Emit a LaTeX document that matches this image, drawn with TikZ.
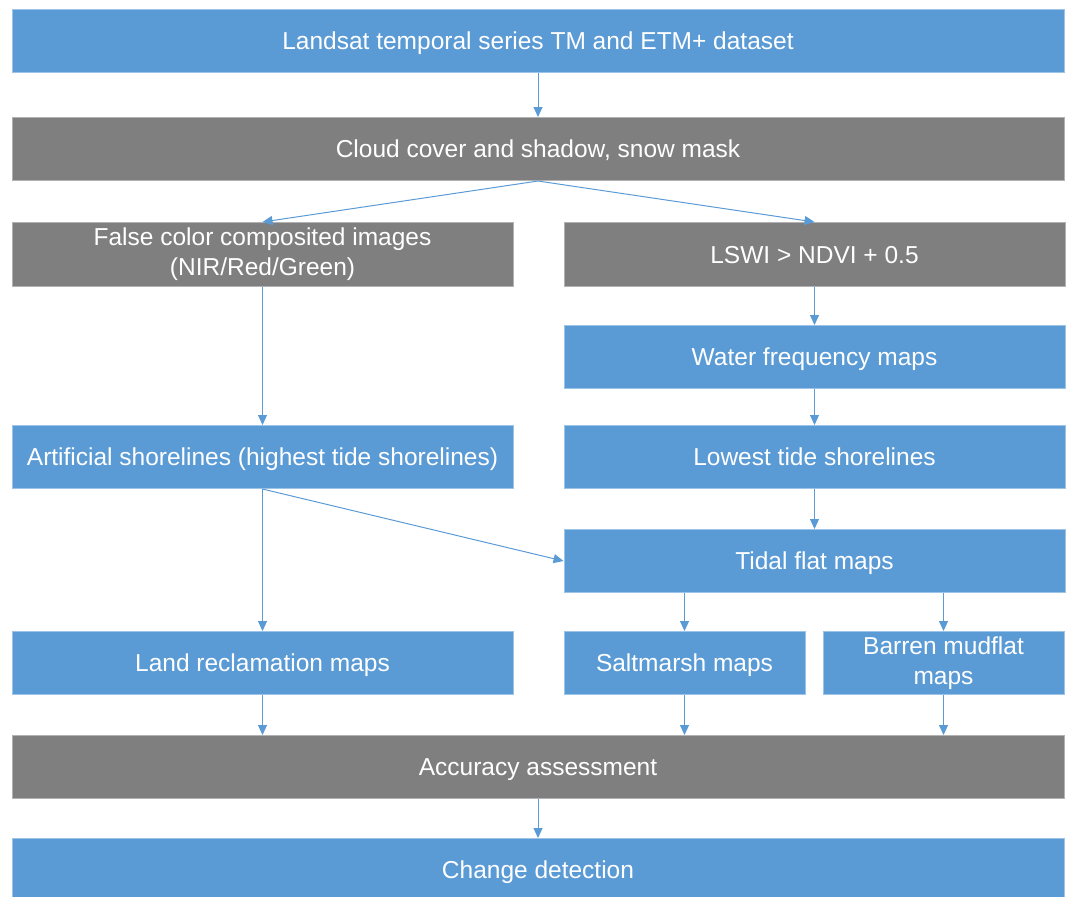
\documentclass[tikz,border=0pt]{standalone}
\usepackage{fontspec}
\setmainfont{Liberation Sans}
\usetikzlibrary{positioning,arrows.meta}

\definecolor{boxblue}{HTML}{5B9BD5}
\definecolor{boxgray}{HTML}{7F7F7F}

\tikzset{
  box/.style={rectangle, text=white, minimum height=31.5pt, inner sep=2pt,
    align=center, line width=0.5pt, text height=8.8pt, text depth=0pt,
    font=\fontsize{12.25}{15}\selectfont},
  twolines/.style={text height={}, text depth={}},
  bluebox/.style={box, fill=boxblue, draw=boxblue!60!white},
  graybox/.style={box, fill=boxgray, draw=boxgray!60!white},
  wide/.style={minimum width=526pt},
  half/.style={minimum width=250.5pt},
  small/.style={minimum width=120.5pt},
  flow/.style={draw=boxblue, line width=0.5pt, -{Triangle[length=5pt,width=4.5pt]}}
}

\begin{document}
\begin{tikzpicture}

  \useasboundingbox (0,0) rectangle (535pt,-448pt);

  % Define nodes
  \node[bluebox, wide] (landsat) at (269pt,-20.5pt) {Landsat temporal series TM and ETM+ dataset};
  \node[graybox, wide, below=22pt of landsat] (cloud) {Cloud cover and shadow, snow mask};
  \node[graybox, half, twolines, minimum height=32pt, below right=20.5pt and 0pt of cloud.south west] (falsecolor) {False color composited images\\(NIR/Red/Green)};
  \node[graybox, half, minimum height=32pt, right=25pt of falsecolor] (lswi) {LSWI > NDVI + 0.5};
  \node[bluebox, half, below=19pt of lswi] (water) {Water frequency maps};
  \node[bluebox, half, below=18pt of water] (lowest) {Lowest tide shorelines};
  \node[bluebox, half, left=25pt of lowest] (artificial) {Artificial shorelines (highest tide shorelines)};
  \node[bluebox, half, below=20pt of lowest] (tidal) {Tidal flat maps};
  \node[bluebox, half, below=71pt of artificial] (reclamation) {Land reclamation maps};
  \node[bluebox, small, below right=19pt and 0pt of tidal.south west] (saltmarsh) {Saltmarsh maps};
  \node[bluebox, small, twolines, right=8.5pt of saltmarsh] (barren) {Barren mudflat\\maps};
  \node[graybox, wide, below right=20pt and 0pt of reclamation.south west] (accuracy) {Accuracy assessment};
  \node[bluebox, wide, below=19.5pt of accuracy] (change) {Change detection};

  % Connect the nodes
  \draw[flow] (landsat) -- (cloud);
  \draw[flow] (cloud.south) -- (falsecolor.north);
  \draw[flow] (cloud.south) -- (lswi.north);
  \draw[flow] (falsecolor) -- (artificial);
  \draw[flow] (lswi) -- (water);
  \draw[flow] (water) -- (lowest);
  \draw[flow] (lowest) -- (tidal);
  \draw[flow] (artificial) -- (reclamation);
  \draw[flow] (artificial.south) -- (tidal.west);
  \draw[flow] (tidal.south -| saltmarsh.north) -- (saltmarsh);
  \draw[flow] (tidal.south -| barren.north) -- (barren);
  \draw[flow] (reclamation) -- (reclamation.south |- accuracy.north);
  \draw[flow] (saltmarsh) -- (saltmarsh.south |- accuracy.north);
  \draw[flow] (barren) -- (barren.south |- accuracy.north);
  \draw[flow] (accuracy) -- (change);

\end{tikzpicture}
\end{document}
